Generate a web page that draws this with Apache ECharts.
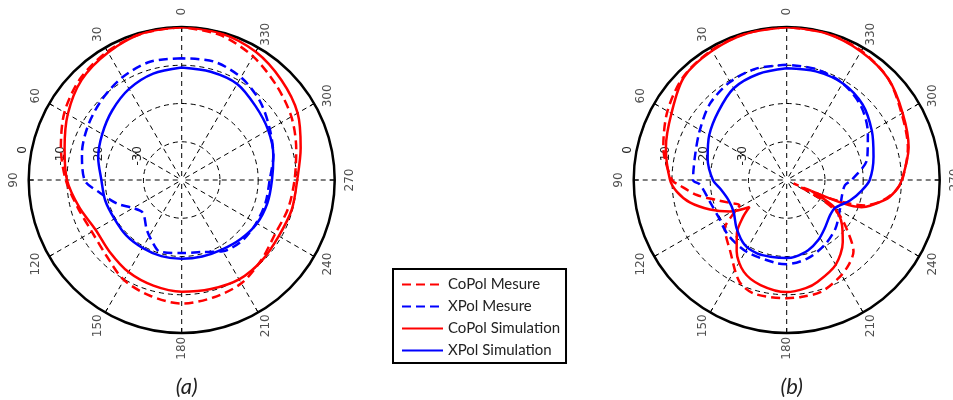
<!DOCTYPE html>
<html><head><meta charset="utf-8">
<script src="https://cdn.jsdelivr.net/npm/echarts@6/dist/echarts.min.js"></script>
<style>html,body{margin:0;padding:0;background:#fff}#c{width:953px;height:400px}</style>
</head><body><div id="c"></div>
<script>
// ---------- axis ticks ----------
const angleTicks = [0, 30, 60, 90, 120, 150, 180, 210, 240, 270, 300, 330];
const radiusTicks = [-40, -30, -20, -10, 0];
const seriesNames = ['CoPol Mesure', 'XPol Mesure', 'CoPol Simulation', 'XPol Simulation'];
const panelTitles = ['(a)', '(b)'];

// ---------- panel (a) ----------
const aCoMesAng = [0,15,30,45,60,75,90,105,120,135,150,165,180,195,210,225,240,255,270,285,300,315,330,345,360];
const aCoMesVal = [0,-0.3,-1.2,-2.5,-4.6,-7.3,-9.7,-11.9,-12.9,-12.1,-9.8,-8.6,-7.7,-8.2,-8.8,-10.5,-11.8,-11.2,-10.5,-9,-6.9,-5,-2.7,-0.8,0];

const aXMesAng = [0,15,30,45,60,75,90,99,110,120,130,145,155,163,180,195,210,225,240,255,270,285,300,315,330,345,360];
const aXMesVal = [-8.2,-8,-9,-10.4,-11.7,-13,-14.6,-18.4,-22,-25.3,-26.7,-24.1,-22,-20.4,-20.9,-20.5,-18.5,-17.6,-17.5,-17.3,-17,-15.2,-13.4,-11,-9,-7.9,-8.2];

const aCoSimAng = [0,15,30,45,60,75,90,105,120,135,150,165,180,195,210,225,240,255,270,285,300,315,330,345,360];
const aCoSimVal = [0,-0.3,-1.5,-3,-5.6,-8.3,-10,-12.3,-14,-13.4,-12.2,-11.4,-10.8,-10.5,-10,-10.3,-10.7,-10.2,-9.8,-7.8,-5,-3.1,-1.3,-0.3,0];

const aXSimAng = [0,15,30,45,60,75,90,105,120,135,150,165,180,195,210,225,240,255,270,285,300,315,330,345,360];
const aXSimVal = [-10.6,-11.2,-12.5,-14.3,-16,-17.4,-19,-19.3,-19.7,-19.5,-19.5,-19.4,-19.4,-19.3,-19,-18.2,-17.3,-16.8,-16.4,-15.2,-13.9,-12.7,-11,-10.7,-10.6];

// ---------- panel (b) ----------
const bCoMesAng = [0,15,30,45,60,75,90,93,99.5,106,112,118,123,128,142,155,164,180,187,197,208,216,223,231,237,241,244,245.6,247.5,252,257.5,264,270,285,300,315,330,345,360];
const bCoMesVal = [0,-0.2,-0.8,-1.8,-4,-6.6,-10,-12.1,-16.2,-21,-24,-26,-23,-19.5,-16.1,-10.7,-9.1,-9.1,-9.2,-9.4,-11,-12.5,-14.4,-19.9,-24,-30,-38,-34.7,-26.3,-18.5,-14.6,-11.5,-9.8,-7.2,-5.3,-2.5,-1,-0.2,0];

const bXMesAng = [0,15,30,45,60,75,90,93,108,118,133,151,173,180,195,210,225,240,255,265,270,285,300,315,330,345,360];
const bXMesVal = [-9.9,-9.8,-10.4,-11.7,-13.8,-15.2,-15.5,-17.3,-19.3,-19.7,-19,-18.5,-18.1,-18,-18.8,-20.3,-22,-24,-25,-24.7,-23,-18.2,-15.5,-12.6,-10.8,-10,-9.9];

const bCoSimAng = [0,15,30,45,60,75,90,96,103,111,119,126,130,137,145,155,166,180,190,197,210,222,231,236,241,246,247.5,250,258.5,264,270,285,300,315,330,345,360];
const bCoSimVal = [0,-0.3,-1,-2,-5.2,-7.3,-9.5,-11.1,-14,-18.5,-23,-28,-25.2,-20.9,-17.2,-13.5,-11.7,-10.7,-11.3,-12.2,-14.4,-18.1,-21.4,-23.5,-26.5,-33,-24,-19.2,-13.8,-11.5,-9.9,-7,-5,-2.5,-1.2,-0.3,0];

const bXSimAng = [0,15,30,45,60,75,90,97,109,121,134,147,158,168,180,186,197,208,218,231,240,252,262,270,285,300,315,330,345,360];
const bXSimVal = [-10.8,-11.3,-12.3,-14.7,-16.6,-18.6,-20.7,-22.4,-23.9,-23.8,-21.8,-19.8,-19.3,-19.5,-19.6,-19.8,-20.8,-22.3,-23.9,-25.4,-25.4,-22.6,-20.2,-18.3,-16.5,-14.3,-12,-10.8,-10.6,-10.8];

// ---------- styles ----------
const RED = '#ff0000', BLUE = '#0000ff';
const centers = [[181.7, 180], [786.7, 180]];
const R = 153;
const angleLabelRadius = 4;   // dB beyond the outer ring, where the angle labels sit

function pairs(vals, angs) { return vals.map((v, i) => [v, angs[i]]); }

function mkSeries(name, polarIndex, vals, angs, color, dashed) {
  return {
    type: 'line', name: name, coordinateSystem: 'polar', polarIndex: polarIndex,
    data: pairs(vals, angs), symbol: 'none', smooth: 0.3, silent: true,
    lineStyle: { color: color, width: 2.5, type: dashed ? [9, 5] : 'solid' },
    itemStyle: { color: color }, z: dashed ? 3 : 4
  };
}

const polar = [], angleAxis = [], radiusAxis = [];
for (let p = 0; p < 2; p++) {
  polar.push({ center: centers[p], radius: R });
  angleAxis.push({
    polarIndex: p, type: 'value', min: 0, max: 360, interval: 30,
    startAngle: 90, clockwise: false,
    axisLine: { lineStyle: { color: '#000', width: 2.5 } },
    axisTick: { show: true, inside: true, length: 5, lineStyle: { color: '#000', width: 1 } },
    splitLine: { show: true, lineStyle: { color: '#000', width: 1, type: [5, 4] } },
    axisLabel: { show: false }
  });
  radiusAxis.push({
    polarIndex: p, type: 'value', min: radiusTicks[0], max: radiusTicks[radiusTicks.length - 1], interval: 10,
    axisLine: { show: false }, axisTick: { show: false }, axisLabel: { show: false },
    splitLine: { show: true, lineStyle: { color: '#000', width: 1, type: [5, 4] } }
  });
}
// extra polar systems only to place the radius tick labels on the left horizontal
for (let p = 0; p < 2; p++) {
  polar.push({ center: centers[p], radius: R });
  angleAxis.push({ polarIndex: p + 2, type: 'value', min: 0, max: 360, startAngle: 180, show: false });
  radiusAxis.push({
    polarIndex: p + 2, type: 'value', min: radiusTicks[0], max: radiusTicks[radiusTicks.length - 1], interval: 10,
    axisLine: { show: false }, axisTick: { show: false }, splitLine: { show: false },
    axisLabel: {
      formatter: v => (v === radiusTicks[0] ? '' : String(v)),
      rotate: 90, margin: -34, verticalAlign: 'bottom',
      color: '#222', fontFamily: 'DejaVu Sans', fontSize: 12
    }
  });
}

const series = [
  mkSeries(seriesNames[0], 0, aCoMesVal, aCoMesAng, RED, true),
  mkSeries(seriesNames[1], 0, aXMesVal, aXMesAng, BLUE, true),
  mkSeries(seriesNames[2], 0, aCoSimVal, aCoSimAng, RED, false),
  mkSeries(seriesNames[3], 0, aXSimVal, aXSimAng, BLUE, false),
  mkSeries(seriesNames[0], 1, bCoMesVal, bCoMesAng, RED, true),
  mkSeries(seriesNames[1], 1, bXMesVal, bXMesAng, BLUE, true),
  mkSeries(seriesNames[2], 1, bCoSimVal, bCoSimAng, RED, false),
  mkSeries(seriesNames[3], 1, bXSimVal, bXSimAng, BLUE, false)
];
// rotated angle tick labels, placed through the polar scales just outside the rim
for (let p = 0; p < 2; p++) {
  series.push({
    type: 'scatter', coordinateSystem: 'polar', polarIndex: p, silent: true, clip: false,
    data: angleTicks.map(a => [angleLabelRadius, a]),
    symbolSize: 1, itemStyle: { color: 'rgba(0,0,0,0)' },
    label: {
      show: true, position: 'inside', rotate: 90,
      formatter: prm => String(prm.value[1]),
      color: '#222', fontFamily: 'DejaVu Sans', fontSize: 12
    }
  });
}

const chart = echarts.init(document.getElementById('c'), null, { renderer: 'canvas' });
chart.setOption({
  animation: false,
  backgroundColor: '#fff',
  title: panelTitles.map((t, i) => ({
    text: t, left: centers[i][0], top: 371, textAlign: 'center',
    textStyle: { fontStyle: 'italic', fontWeight: 'normal', fontSize: 22, fontFamily: 'Lato', color: '#222' }
  })),
  legend: {
    data: seriesNames, orient: 'vertical', left: 393, top: 269,
    itemWidth: 41, itemHeight: 14, itemGap: 7, padding: [8, 6, 5, 8],
    borderColor: '#000', borderWidth: 2,
    itemStyle: { color: 'rgba(0,0,0,0)', borderWidth: 0, opacity: 0 },
    textStyle: { fontFamily: 'Lato', fontSize: 15, color: '#222' }
  },
  polar: polar, angleAxis: angleAxis, radiusAxis: radiusAxis, series: series
});
</script></body></html>
